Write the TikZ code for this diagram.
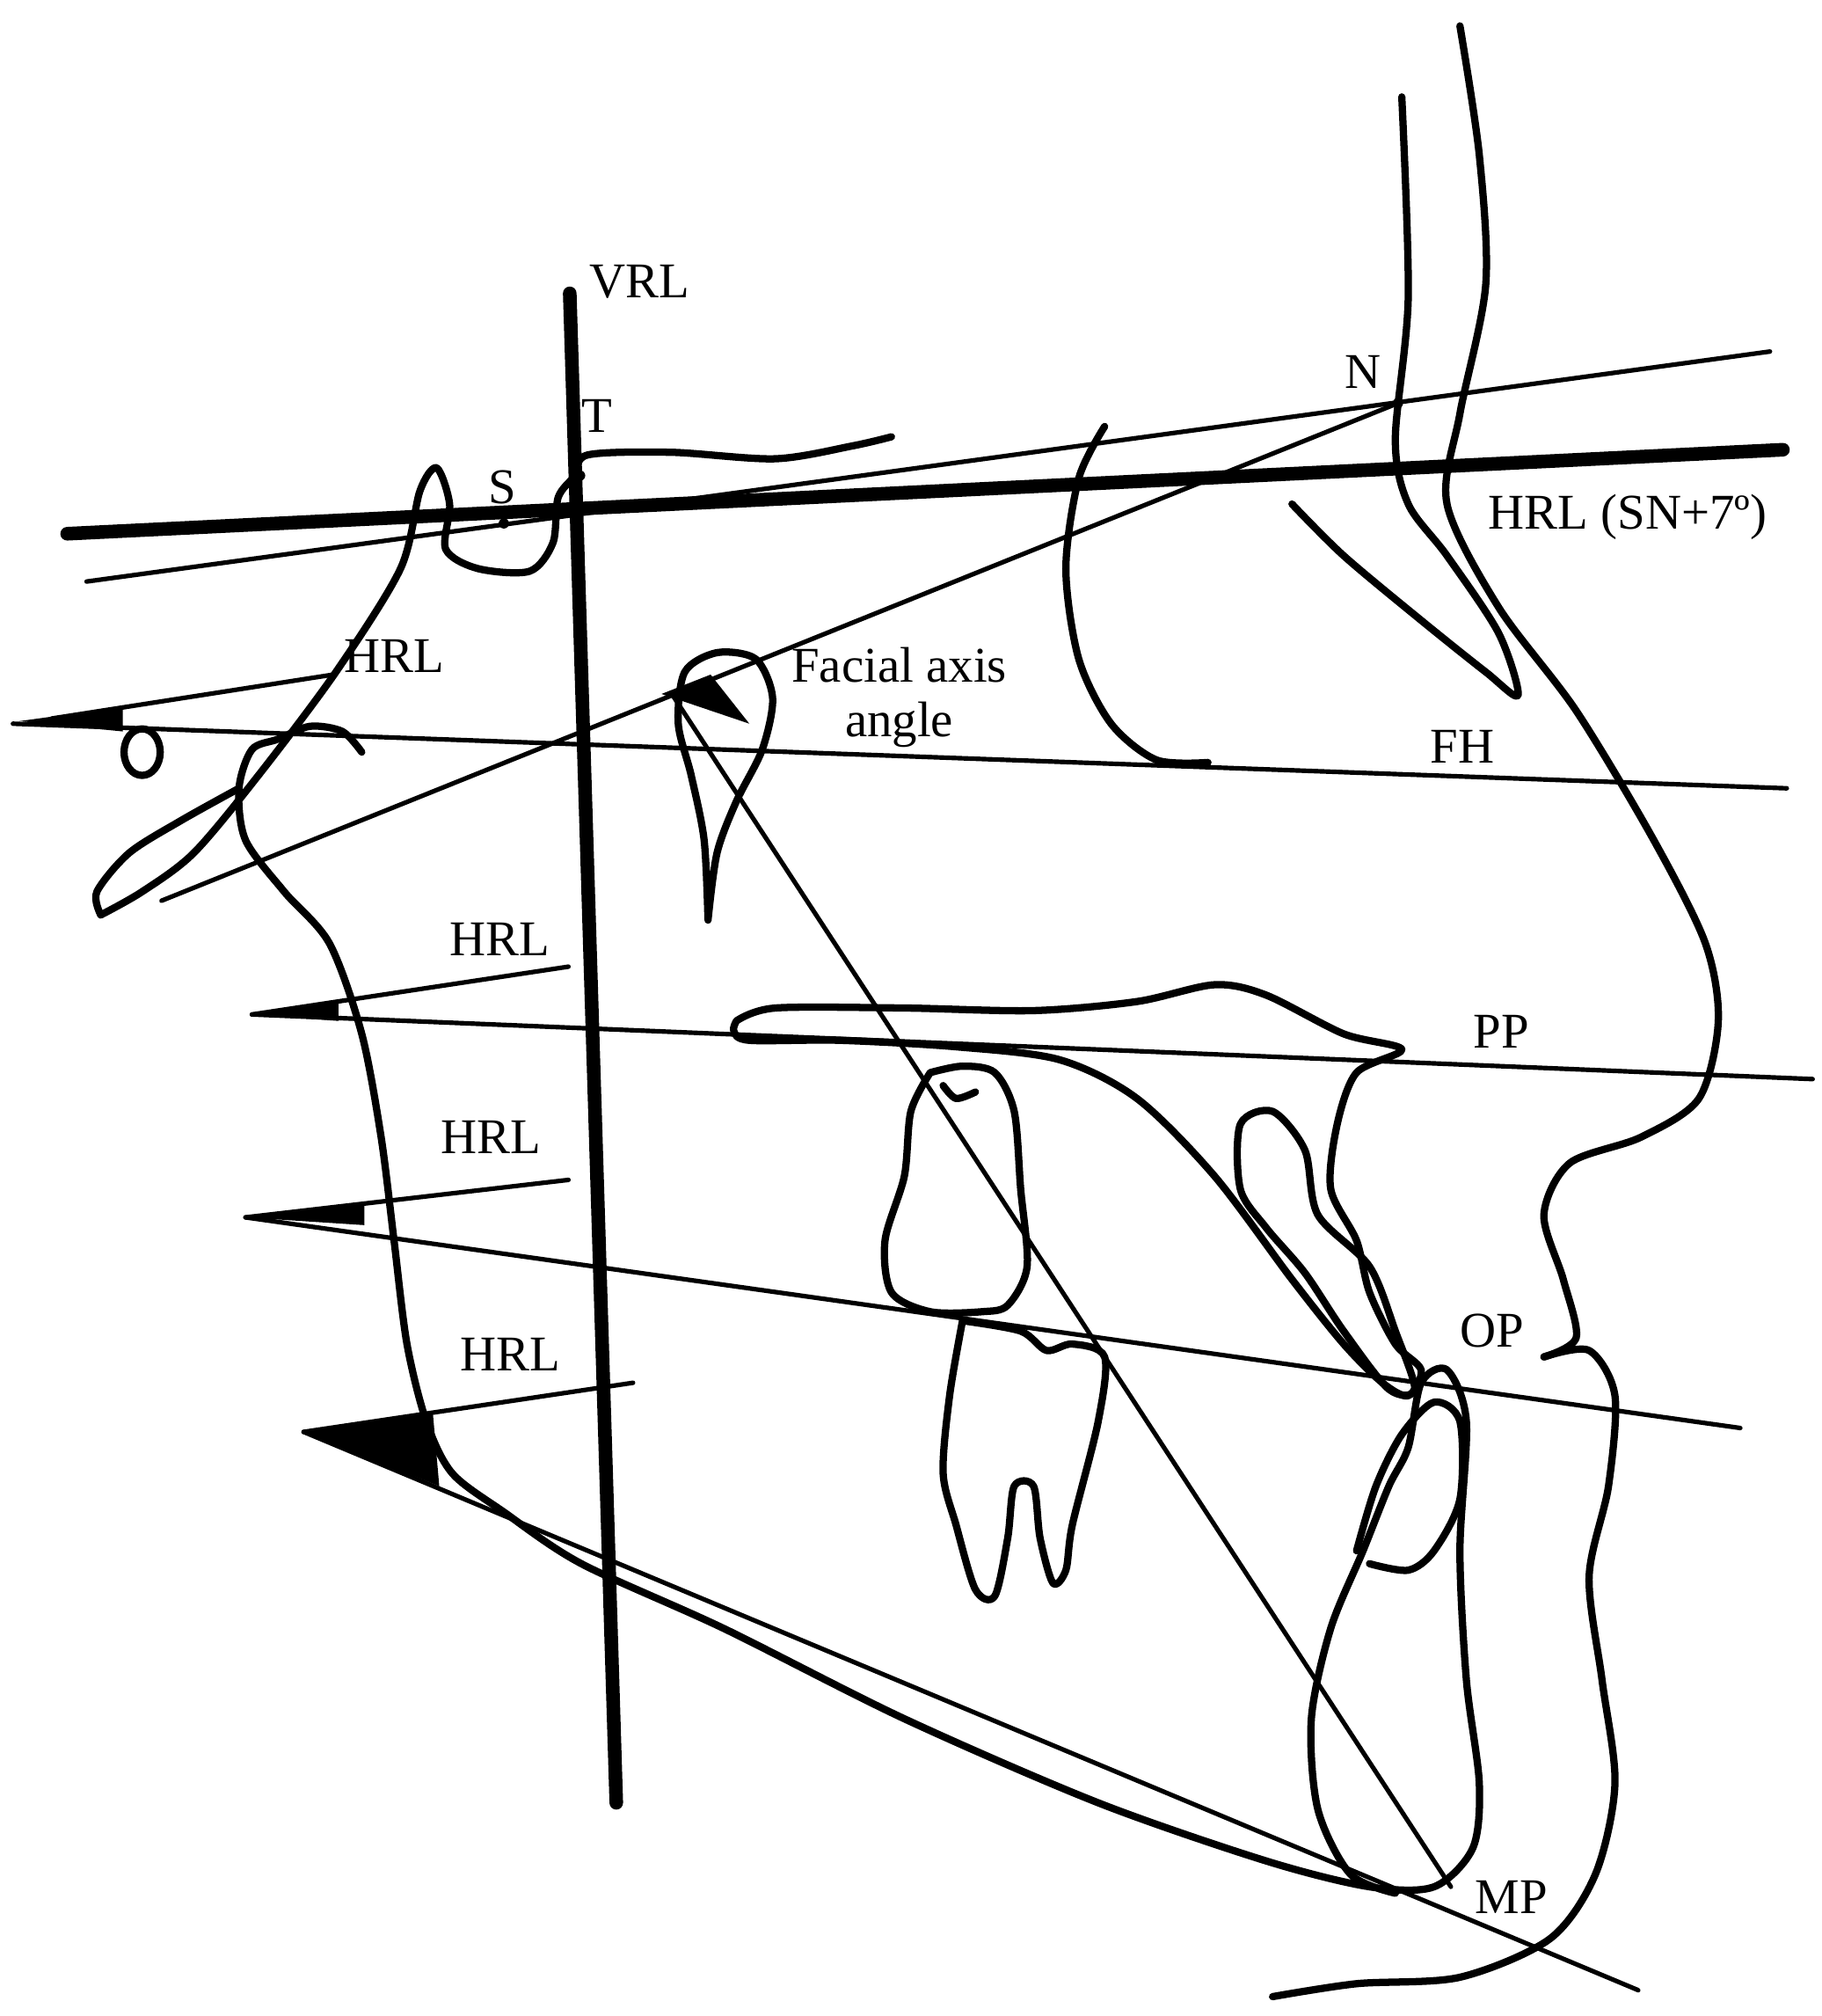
\documentclass[tikz,border=0pt]{standalone}
\usepackage{fontspec}
\setmainfont{Liberation Serif}
\begin{document}
\begin{tikzpicture}[x=0.01cm,y=-0.01cm,line join=round,line cap=round,
 thin/.style={line width=1pt},
 bone/.style={line width=1.6pt},
 thickl/.style={line width=3pt},
 lbl/.style={font=\fontsize{11}{12}\selectfont,inner sep=1pt}]
\fill[white] (0,0) rectangle (1410,1560);
\useasboundingbox (0,0) rectangle (1410,1560);
% reference lines
\draw[thickl] (441,227) coordinate(v1) -- (477,1395) coordinate(v2);
\draw[thickl] (52,413) -- (1380,348);
\draw[thin] (67,450) -- (1370,272);
\draw[thin] (1082,312) -- (125,697);
\draw[thin] (520,537) -- (1123,1460);
\draw[thin] (10,560) -- (1383,610);
\draw[thin] (195,785) -- (1403,835);
\draw[thin] (190,942) -- (1347,1105);
\draw[thin] (235,1108) -- (1268,1540);
% short HRL lines
\draw[thin] (40,556) -- (258,522);
\draw[thin] (195,785) -- (440,748);
\draw[thin] (190,942) -- (440,913);
\draw[thin] (235,1108) -- (490,1070);
% triangles
\fill (15,558) -- (95,547) -- (95,566) -- cycle;
\fill (195,785) -- (262,776) -- (262,790) -- cycle;
\fill (190,942) -- (282,930) -- (282,948) -- cycle;
\fill (235,1108) -- (335,1093) -- (340,1150) -- cycle;
\fill (512,537) -- (550,522) -- (580,560) -- cycle;
% points
\fill (449,368) circle (4);
\fill (390,405) circle (4);
\fill (1082,312) circle (4);
% anatomy
\draw[bone] plot[smooth] coordinates{(78,708)(110,690)(150,660)(200,600)(260,520)(310,440)(325,380)(338,362)(348,390)(345,425)(370,440)(410,442)(428,420)(432,385)(445,368)(455,352)(520,350)(600,355)(660,345)(690,338)};
\draw[bone] plot[smooth] coordinates{(78,708)(75,690)(100,660)(140,635)(185,610)};
\draw[bone] (110,582) ellipse (14 and 18);
\draw[bone] plot[smooth] coordinates{(855,330)(835,370)(825,440)(835,510)(860,560)(895,588)(935,590)};
\draw[bone] plot[smooth] coordinates{(1000,390)(1040,430)(1100,480)(1150,520)(1175,538)(1160,490)(1120,430)(1090,390)(1080,340)(1090,230)(1085,75)};
\draw[bone] plot[smooth] coordinates{(1130,20)(1145,120)(1150,220)(1130,320)(1120,390)(1160,470)(1220,550)(1280,650)(1320,730)(1330,790)(1315,850)(1270,880)(1215,900)(1195,940)(1210,990)(1220,1035)(1195,1050)};
\draw[bone] plot[smooth] coordinates{(1195,1050)(1230,1045)(1250,1080)(1245,1150)(1230,1220)(1240,1300)(1250,1380)(1235,1450)(1200,1500)(1130,1530)(1050,1535)(985,1545)};
% mandible
\draw[bone] plot[smooth] coordinates{(280,582)(265,566)(240,562)(215,572)(195,580)(185,610)(190,650)(220,690)(255,730)(280,800)(295,880)(305,960)(315,1040)(330,1100)(350,1140)(390,1170)(450,1210)(560,1260)(700,1330)(850,1395)(980,1440)(1060,1460)(1110,1460)(1140,1430)(1145,1380)(1135,1300)(1130,1200)(1135,1100)(1120,1060)(1100,1070)(1090,1120)(1075,1150)(1055,1200)(1030,1260)(1015,1330)(1020,1400)(1045,1450)(1080,1465)};
% palate / maxilla
\draw[bone] plot[smooth] coordinates{(570,790)(600,780)(700,780)(800,782)(880,775)(940,762)(980,770)(1040,800)(1085,812)(1050,830)(1035,870)(1030,920)(1050,960)(1060,1000)(1080,1040)(1100,1060)(1090,1080)(1070,1070)(1040,1040)(1000,990)(940,910)(880,850)(820,820)(740,810)(650,805)(580,805)(568,798)(570,790)};
\draw[bone] plot[smooth cycle] coordinates{(960,870)(985,860)(1010,890)(1020,940)(1060,980)(1080,1030)(1095,1075)(1075,1075)(1040,1030)(1010,985)(980,950)(960,920)};
% upper molar
\draw[bone] plot[smooth] coordinates{(720,830)(745,825)(770,830)(785,860)(790,920)(795,980)(780,1010)(760,1015)(720,1015)(690,1000)(685,960)(700,910)(705,860)(720,830)};
\draw[bone] plot[smooth] coordinates{(730,840)(740,850)(755,845)};
% lower molar
\draw[bone] plot[smooth] coordinates{(745,1022)(790,1030)(810,1045)(830,1040)(855,1050)(850,1100)(830,1180)(825,1215)(815,1225)(805,1190)(800,1150)(785,1150)(780,1190)(770,1235)(755,1230)(740,1180)(730,1140)(735,1080)(745,1022)};
% upper third molar
\draw[bone] plot[smooth] coordinates{(548,712)(545,650)(535,600)(525,560)(530,520)(555,505)(585,510)(598,540)(590,580)(570,620)(555,660)(548,712)};
% lower incisor
\draw[bone] plot[smooth] coordinates{(1050,1200)(1065,1150)(1085,1110)(1110,1085)(1130,1100)(1130,1160)(1110,1200)(1090,1215)(1060,1210)};
% labels
\node[lbl,anchor=west] at (452,218) {VRL};
\node[lbl] at (462,322) {T};
\node[lbl] at (389,377) {S};
\node[lbl] at (1055,288) {N};
\node[lbl,anchor=west] at (1148,400) {HRL (SN+7º)};
\node[lbl] at (305,508) {HRL};
\node[lbl,align=center] at (696,540) {Facial axis\\angle};
\node[lbl] at (1132,578) {FH};
\node[lbl] at (387,727) {HRL};
\node[lbl] at (1162,798) {PP};
\node[lbl] at (380,880) {HRL};
\node[lbl] at (1155,1030) {OP};
\node[lbl] at (395,1048) {HRL};
\node[lbl] at (1170,1468) {MP};
\end{tikzpicture}
\end{document}
